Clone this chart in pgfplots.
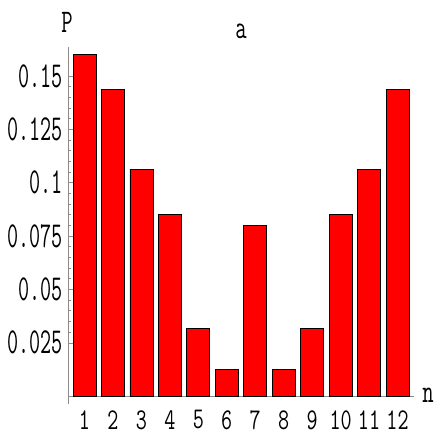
\documentclass[border=0pt]{standalone}
\usepackage{fontspec}
\usepackage{graphicx}
\usepackage{pgfplots}
\pgfplotsset{compat=1.18}
\newcommand\yl[1]{\scalebox{1}[1.7]{#1}}
\newcommand\xl[1]{\scalebox{1}[1.4]{#1}}
\newcommand\lb[1]{\scalebox{1}[1.5]{#1}}
\begin{document}
\begin{tikzpicture}
\useasboundingbox (0,0) rectangle (436pt,436pt);
\begin{axis}[
    at={(68pt,32pt)}, anchor=south west,
    scale only axis, width=346pt, height=357pt,
    xmin=0.42, xmax=12.58, ymin=-0.0037, ymax=0.1636,
    axis x line=middle, axis y line=left,
    axis line style={-, black!45, line width=0.6pt},
    font=\ttfamily\fontsize{21.5}{22}\selectfont,
    xtick={1,...,12},
    xticklabels={\xl{1},\xl{2},\xl{3},\xl{4},\xl{5},\xl{6},\xl{7},\xl{8},\xl{9},\xl{10},\xl{11},\xl{12}},
    xtick style={draw=none},
    xticklabel style={inner sep=0pt, anchor=north, yshift=-9pt},
    ytick={0.025,0.05,0.075,0.1,0.125,0.15},
    yticklabels={\yl{0.025},\yl{0.05},\yl{0.075},\yl{0.1},\yl{0.125},\yl{0.15}},
    yticklabel style={inner sep=0pt, xshift=-5pt},
    minor y tick num=4,
    tick align=inside,
    major tick length=5pt, minor tick length=3pt,
    ytick style={black!45, line width=0.5pt},
    ybar, bar width=23pt,
    clip=false,
]
\addplot[fill=red, draw=black, line width=0.7pt] coordinates {
    (1,0.1603) (2,0.1439) (3,0.1064) (4,0.0853) (5,0.0319) (6,0.0127)
    (7,0.0798) (8,0.0127) (9,0.0319) (10,0.0853) (11,0.1064) (12,0.1439)
};
\node[font=\ttfamily\fontsize{22}{22}\selectfont] at (axis description cs:0,1)
    [xshift=-1pt, yshift=25pt] {\lb{P}};
\node[font=\ttfamily\fontsize{22}{22}\selectfont] at (axis description cs:0.5,1)
    [yshift=16pt] {\lb{a}};
\node[font=\ttfamily\fontsize{22}{22}\selectfont] at (axis cs:12.58,0)
    [xshift=14pt, yshift=1pt] {\lb{n}};
\end{axis}
\end{tikzpicture}
\end{document}
